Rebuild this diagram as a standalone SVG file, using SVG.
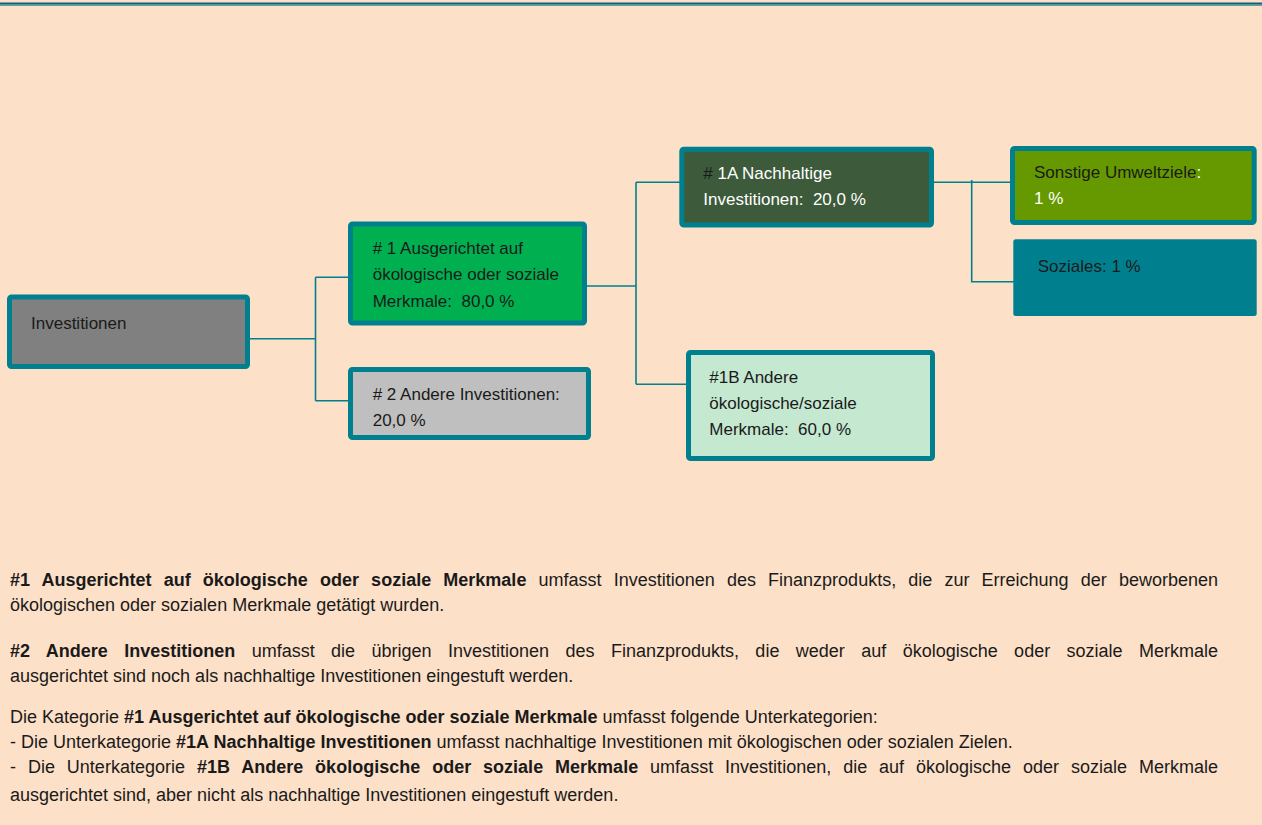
<svg xmlns="http://www.w3.org/2000/svg" width="1262" height="825" viewBox="0 0 1262 825">
<style>
.bg{fill:#FDE0C8}
.node{stroke:#00808E;stroke-width:5}
.t{font-family:"Liberation Sans",Arial,sans-serif;font-size:17px;fill:#1a1a1a}
.w{fill:#ffffff}
.p{font-family:"Liberation Sans",Arial,sans-serif;font-size:18px;fill:#1a1a1a}
.b{font-weight:bold}
.con{fill:none;stroke:#00808E;stroke-width:1.6}
</style>
<rect class="bg" x="0" y="0" width="1262" height="825"/>
<rect x="0" y="2.5" width="1262" height="2" fill="#1A5C74"/>
<rect x="0" y="4.5" width="1262" height="1.2" fill="#0E8D97"/>

<g id="connectors">
<path class="con" d="M250 338.7 H315.5 M315.5 277.3 V400.7 M315.5 277.3 H350 M315.5 400.7 H350"/>
<path class="con" d="M587 286 H636 M636 182.3 V384.3 M636 182.3 H682 M636 384.3 H688"/>
<path class="con" d="M934 182.3 H1012 M971.7 180 V281.7 H1014"/>
</g>

<g id="investitionen">
<rect class="node" x="9.5" y="297" width="238" height="69.5" rx="2" fill="#808080"/>
<text class="t" x="31" y="328.5">Investitionen</text>
</g>

<g id="n1">
<rect class="node" x="350.5" y="224" width="234" height="99" rx="2" fill="#00B050"/>
<text class="t" x="372.7" y="253.5">#&#160;1 Ausgerichtet auf</text>
<text class="t" x="372.7" y="280">ökologische oder soziale</text>
<text class="t" x="372.7" y="306.5">Merkmale:&#160; 80,0 %</text>
</g>

<g id="n2">
<rect class="node" x="350.5" y="369.5" width="238" height="68" rx="2" fill="#BFBFBF"/>
<text class="t" x="372.7" y="400">#&#160;2 Andere Investitionen:</text>
<text class="t" x="372.7" y="425.5">20,0 %</text>
</g>

<g id="n1a">
<rect class="node" x="681.8" y="149.2" width="249.7" height="75.8" rx="2" fill="#3D5A3A"/>
<text class="t" x="703.3" y="178.5">#<tspan class="w">&#160;1A Nachhaltige</tspan></text>
<text class="t w" x="703.3" y="205">Investitionen:&#160; 20,0 %</text>
</g>

<g id="n1b">
<rect class="node" x="688.5" y="352.5" width="244" height="106" rx="2" fill="#C5E8D1"/>
<text class="t" x="709.3" y="382.5">#1B Andere</text>
<text class="t" x="709.3" y="409">ökologische/soziale</text>
<text class="t" x="709.3" y="434.5">Merkmale:&#160; 60,0 %</text>
</g>

<g id="umwelt">
<rect class="node" x="1012.5" y="148.5" width="241.7" height="74" rx="2" fill="#669900"/>
<text class="t" x="1034" y="178">Sonstige Umweltziele<tspan class="w">:</tspan></text>
<text class="t w" x="1034" y="204">1 %</text>
</g>

<g id="soziales">
<rect x="1013.3" y="239.3" width="243.4" height="76.7" rx="2.5" fill="#00808E"/>
<text class="t" x="1037.7" y="271.5">Soziales: 1 %</text>
</g>

<g id="legend">
<text class="p" x="10" y="585.5" word-spacing="7.1" textLength="1208" lengthAdjust="spacing"><tspan class="b">#1 Ausgerichtet auf ökologische oder soziale Merkmale</tspan> umfasst Investitionen des Finanzprodukts, die zur Erreichung der beworbenen</text>
<text class="p" x="10" y="611">ökologischen oder sozialen Merkmale getätigt wurden.</text>
<text class="p" x="10" y="656.5" word-spacing="11.4" textLength="1208" lengthAdjust="spacing"><tspan class="b">#2 Andere Investitionen</tspan> umfasst die übrigen Investitionen des Finanzprodukts, die weder auf ökologische oder soziale Merkmale</text>
<text class="p" x="10" y="682">ausgerichtet sind noch als nachhaltige Investitionen eingestuft werden.</text>
<text class="p" x="10" y="722.5">Die Kategorie <tspan class="b">#1 Ausgerichtet auf ökologische oder soziale Merkmale</tspan> umfasst folgende Unterkategorien:</text>
<text class="p" x="10" y="748">- Die Unterkategorie <tspan class="b">#1A Nachhaltige Investitionen</tspan> umfasst nachhaltige Investitionen mit ökologischen oder sozialen Zielen.</text>
<text class="p" x="10" y="773" word-spacing="6.9" textLength="1208" lengthAdjust="spacing">- Die Unterkategorie <tspan class="b">#1B Andere ökologische oder soziale Merkmale</tspan> umfasst Investitionen, die auf ökologische oder soziale Merkmale</text>
<text class="p" x="10" y="801">ausgerichtet sind, aber nicht als nachhaltige Investitionen eingestuft werden.</text>
</g>
</svg>
